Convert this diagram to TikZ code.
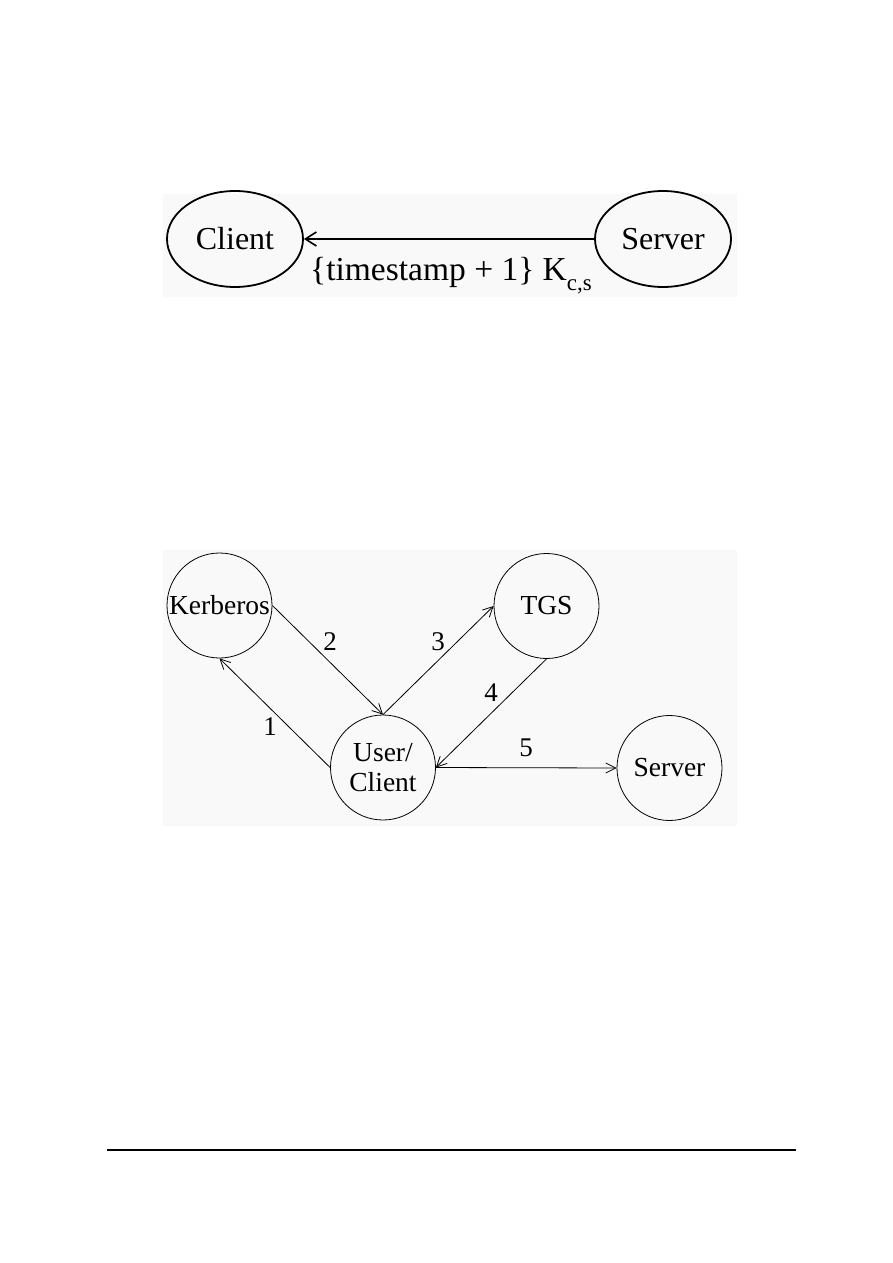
\documentclass[tikz,border=0pt]{standalone}
\usepackage{fontspec}
\setmainfont{Liberation Serif}
\usetikzlibrary{shapes.geometric,arrows.meta}
\definecolor{panel}{RGB}{249,249,249}
\begin{document}
\begin{tikzpicture}[x=1pt,y=-1pt,
  ellnode/.style={draw,line width=1.8pt,ellipse,minimum width=136pt,minimum height=96pt,inner sep=0pt,font=\fontsize{32}{34}\selectfont},
  circnode/.style={draw,line width=0.8pt,circle,minimum size=105pt,inner sep=0pt,font=\fontsize{27.5}{29.5}\selectfont,align=center},
  bigarrow/.style={line width=1.8pt,-{Straight Barb[length=11pt,width=14pt,line width=1.6pt]}},
  thinarrow/.style={line width=0.8pt,-{Straight Barb[length=10pt,width=10pt,line width=0.8pt]}},
  numlabel/.style={font=\fontsize{27}{29}\selectfont,inner sep=0pt}]
\useasboundingbox (0,0) rectangle (893,1263);
\fill[white] (0,0) rectangle (893,1263);
% panels
\fill[panel] (163,194) rectangle (737,297);
\fill[panel] (163,550) rectangle (737,826);
% top figure
\node[ellnode] (client) at (235,239) {Client};
\node[ellnode] (server) at (663,239) {Server};
\draw[bigarrow] (server) -- node[midway,anchor=base,yshift=-41pt,xshift=2pt,font=\fontsize{33.5}{35}\selectfont,inner sep=0pt]
  {\{timestamp + 1\} K\raisebox{-0.3em}{\fontsize{23}{25}\selectfont c,s}} (client);
% bottom figure
\node[circnode] (kerb) at (219.5,605.5) {Kerberos};
\node[circnode] (tgs) at (546.5,606) {TGS};
\node[circnode] (user) at (383,767.5) {User/\\Client};
\node[circnode] (srv) at (669.5,768) {Server};
\draw[thinarrow] (user.west) -- (kerb.south);
\draw[thinarrow] (kerb.east) -- (user.north);
\draw[thinarrow] (user.north) -- (tgs.west);
\draw[thinarrow] (tgs.south) -- (user.east);
\draw[thinarrow] (user.east) -- (srv.west);
\node[numlabel] (n1) at (270,727) {1};
\node[numlabel] (n2) at (330,642) {2};
\node[numlabel] (n3) at (438,642) {3};
\node[numlabel] (n4) at (491,693) {4};
\node[numlabel] (n5) at (526,748) {5};
% footer rule
\coordinate (fl) at (107,1150);
\coordinate (fr) at (796,1150);
\draw[line width=1.3pt] (fl) -- (fr);
\end{tikzpicture}
\end{document}
